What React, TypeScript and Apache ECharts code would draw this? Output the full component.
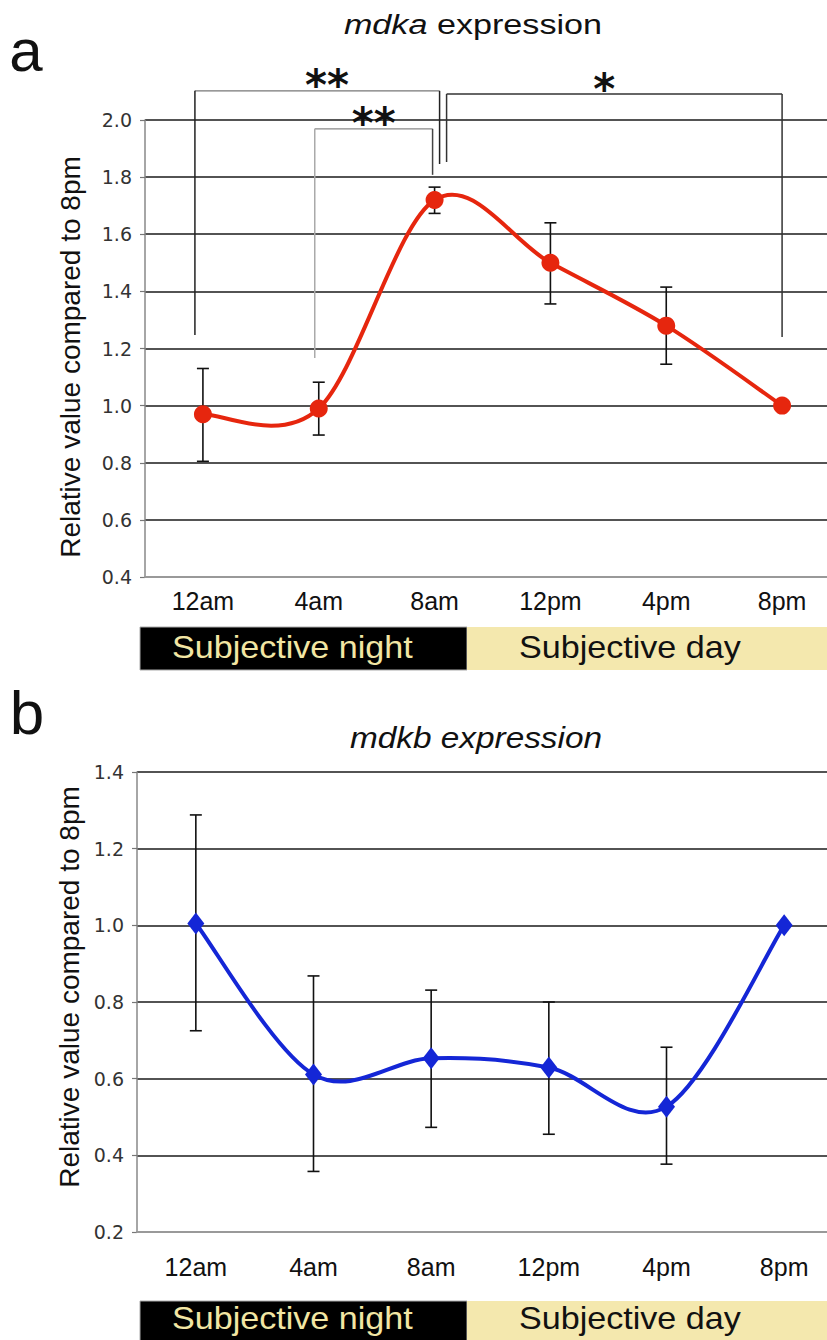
import React, { useEffect, useRef } from 'react';
import * as echarts from 'echarts';

// ---- data ----
const categories = ['12am', '4am', '8am', '12pm', '4pm', '8pm'];
const mdkaValues = [0.97, 0.99, 1.72, 1.5, 1.28, 1.0];
const mdkaUpper = [1.13, 1.082, 1.765, 1.64, 1.415, null];
const mdkaLower = [0.805, 0.897, 1.673, 1.356, 1.145, null];
const mdkbValues = [1.005, 0.611, 0.653, 0.629, 0.527, 1.0];
const mdkbUpper = [1.288, 0.868, 0.831, 0.8, 0.682, null];
const mdkbLower = [0.725, 0.358, 0.473, 0.455, 0.377, null];
const yRangeA = [0.4, 2.0];
const yRangeB = [0.2, 1.4];
const yStep = 0.2;
// significance brackets (category indices and values on the mdka axis)
const sigLabels = ['**', '**', '*'];
const sigFrom = [0, 1, 2];
const sigTo = [2, 2, 5];
const sigTop = [2.102, 1.969, 2.091];
const sigFromEnd = [1.247, 1.167, 1.853];
const sigToEnd = [1.846, 1.808, 1.24];

const FONT = "'Liberation Sans', Arial, Helvetica, sans-serif";
const TICKFONT = "'DejaVu Sans', Verdana, sans-serif";

function errData(lo: (number | null)[], hi: (number | null)[]) {
  const out: number[][] = [];
  lo.forEach((l, i) => {
    const h = hi[i];
    if (l != null && h != null) out.push([i, l, h]);
  });
  return out;
}

function errorRender(params: any, api: any) {
  const x = api.value(0);
  const lo = api.coord([x, api.value(1)]);
  const hi = api.coord([x, api.value(2)]);
  const w = 6;
  const st = { stroke: '#111', lineWidth: 1.6 };
  return {
    type: 'group',
    children: [
      { type: 'line', shape: { x1: lo[0], y1: lo[1], x2: hi[0], y2: hi[1] }, style: st },
      { type: 'line', shape: { x1: lo[0] - w, y1: lo[1], x2: lo[0] + w, y2: lo[1] }, style: st },
      { type: 'line', shape: { x1: hi[0] - w, y1: hi[1], x2: hi[0] + w, y2: hi[1] }, style: st },
    ],
  };
}

// Excel-like (Catmull-Rom) smoothed curve, one bezier segment per data item
function curveRender(values: number[], color: string) {
  return (params: any, api: any) => {
    const i = params.dataIndex;
    const n = values.length;
    if (i >= n - 1) return null;
    const P = (k: number) => api.coord([Math.max(0, Math.min(n - 1, k)), values[Math.max(0, Math.min(n - 1, k))]]);
    const p0 = P(i - 1), p1 = P(i), p2 = P(i + 1), p3 = P(i + 2);
    return {
      type: 'bezierCurve',
      shape: {
        x1: p1[0], y1: p1[1], x2: p2[0], y2: p2[1],
        cpx1: p1[0] + (p2[0] - p0[0]) / 6, cpy1: p1[1] + (p2[1] - p0[1]) / 6,
        cpx2: p2[0] - (p3[0] - p1[0]) / 6, cpy2: p2[1] - (p3[1] - p1[1]) / 6,
      },
      style: { stroke: color, lineWidth: 4, fill: 'none', lineCap: 'round' },
    };
  };
}

function xAxisCfg(gridIndex: number, margin: number) {
  return {
    type: 'category',
    gridIndex,
    data: categories,
    boundaryGap: true,
    axisLine: { show: true, lineStyle: { color: '#999', width: 2 } },
    axisTick: { show: false },
    axisLabel: { fontSize: 25, color: '#111', fontFamily: FONT, margin },
    splitLine: { show: false },
    z: 5,
  };
}

function yAxisCfg(gridIndex: number, range: number[]) {
  return {
    type: 'value',
    gridIndex,
    min: range[0],
    max: range[1],
    interval: yStep,
    axisLine: { show: true, lineStyle: { color: '#888', width: 1.5 } },
    axisTick: { show: true, length: 5, lineStyle: { color: '#777', width: 1.2 } },
    axisLabel: {
      formatter: (v: number) => v.toFixed(1),
      fontSize: 19,
      fontFamily: TICKFONT,
      color: '#333',
      margin: 13,
    },
    splitLine: { show: true, lineStyle: { color: '#1a1a1a', width: 1.6 } },
  };
}

export default function App() {
  const ref = useRef<HTMLDivElement>(null);
  useEffect(() => {
    if (!ref.current) return;
    const chart = echarts.init(ref.current, null, { renderer: 'svg' });
    const RED = '#e6260e';
    const BLUE = '#1426d6';
    chart.setOption({
      animation: false,
      backgroundColor: '#ffffff',
      grid: [
        { left: 145, top: 120, width: 695, height: 457, containLabel: false, outerBoundsMode: 'none' },
        { left: 137, top: 772, width: 706, height: 460, containLabel: false, outerBoundsMode: 'none' },
      ],
      xAxis: [xAxisCfg(0, 11), xAxisCfg(1, 22)],
      yAxis: [yAxisCfg(0, yRangeA), yAxisCfg(1, yRangeB)],
      series: [
        {
          type: 'custom', xAxisIndex: 0, yAxisIndex: 0,
          data: errData(mdkaLower, mdkaUpper),
          encode: { x: 0, y: [1, 2] },
          renderItem: errorRender, z: 2,
        },
        {
          type: 'custom', xAxisIndex: 0, yAxisIndex: 0,
          data: mdkaValues.map((v, i) => [i, v]),
          encode: { x: 0, y: 1 },
          renderItem: curveRender(mdkaValues, RED), z: 3,
        },
        {
          type: 'scatter', xAxisIndex: 0, yAxisIndex: 0,
          data: mdkaValues.map((v, i) => [i, v]),
          symbol: 'circle', symbolSize: 18,
          itemStyle: { color: RED, opacity: 1 }, z: 4,
        },
        {
          type: 'custom', xAxisIndex: 1, yAxisIndex: 1,
          data: errData(mdkbLower, mdkbUpper),
          encode: { x: 0, y: [1, 2] },
          renderItem: errorRender, z: 2,
        },
        {
          type: 'custom', xAxisIndex: 1, yAxisIndex: 1,
          data: mdkbValues.map((v, i) => [i, v]),
          encode: { x: 0, y: 1 },
          renderItem: curveRender(mdkbValues, BLUE), z: 3,
        },
        {
          type: 'scatter', xAxisIndex: 1, yAxisIndex: 1,
          data: mdkbValues.map((v, i) => [i, v]),
          symbol: 'diamond', symbolSize: [17, 22],
          itemStyle: { color: BLUE, opacity: 1 }, z: 4,
        },
      ],
    });

    const px = (g: number, i: number, v: number) =>
      chart.convertToPixel({ xAxisIndex: g, yAxisIndex: g } as any, [i, v]) as number[];

    const graphics: any[] = [];
    // panel letters
    graphics.push({ type: 'text', x: 26, y: 50, style: { text: 'a', fontSize: 60, fontFamily: FONT, fill: '#111', align: 'center', verticalAlign: 'middle' } });
    graphics.push({ type: 'text', x: 27, y: 712, style: { text: 'b', fontSize: 62, fontFamily: FONT, fill: '#111', align: 'center', verticalAlign: 'middle' } });
    // titles
    graphics.push({
      type: 'text', x: 473, y: 25, scaleX: 1.22,
      style: { text: '{i|mdka} expression', fontSize: 28, fontFamily: FONT, fill: '#111', align: 'center', verticalAlign: 'middle', rich: { i: { fontStyle: 'italic', fontSize: 28, fontFamily: FONT, fill: '#111' } } },
    });
    graphics.push({
      type: 'text', x: 476, y: 738, scaleX: 1.15,
      style: { text: 'mdkb expression', fontStyle: 'italic', fontSize: 29, fontFamily: FONT, fill: '#111', align: 'center', verticalAlign: 'middle' },
    });
    // y-axis names
    graphics.push({ type: 'text', x: 70, y: 357, rotation: Math.PI / 2, style: { text: 'Relative value compared to 8pm', fontSize: 28, fontFamily: FONT, fill: '#111', align: 'center', verticalAlign: 'middle' } });
    graphics.push({ type: 'text', x: 69, y: 987, rotation: Math.PI / 2, style: { text: 'Relative value compared to 8pm', fontSize: 28, fontFamily: FONT, fill: '#111', align: 'center', verticalAlign: 'middle' } });
    // subjective night / day bars
    const bars = [
      { y: 627, h: 43, ty: 648 },
      { y: 1301, h: 45, ty: 1319 },
    ];
    bars.forEach((b) => {
      graphics.push({ type: 'rect', shape: { x: 140, y: b.y, width: 327, height: b.h }, style: { fill: '#000', stroke: '#aaa', lineWidth: 1 } });
      graphics.push({ type: 'rect', shape: { x: 467, y: b.y, width: 362, height: b.h }, style: { fill: '#f4e8ae' } });
      graphics.push({ type: 'text', x: 172, y: b.ty, scaleX: 1.1, style: { text: 'Subjective night', fontSize: 31, fontFamily: FONT, fill: '#f2e6a4', align: 'left', verticalAlign: 'middle' } });
      graphics.push({ type: 'text', x: 519, y: b.ty, scaleX: 1.1, style: { text: 'Subjective day', fontSize: 31, fontFamily: FONT, fill: '#111', align: 'left', verticalAlign: 'middle' } });
    });
    // significance brackets on panel a
    const legDx = [[-8, 5], [-4, -2], [12, 0]];
    const hColor = ['#777', '#888', '#333'];
    const hWidth = [1.2, 1.2, 1.5];
    const lColor = [['#222', '#222'], ['#aaa', '#444'], ['#333', '#333']];
    const labelT = [0.54, 0.5, 0.47];
    sigLabels.forEach((lab, k) => {
      const a = px(0, sigFrom[k], sigTop[k]);
      const b = px(0, sigTo[k], sigTop[k]);
      const xa = a[0] + legDx[k][0];
      const xb = b[0] + legDx[k][1];
      const yt = a[1];
      const ya = px(0, sigFrom[k], sigFromEnd[k])[1];
      const yb = px(0, sigTo[k], sigToEnd[k])[1];
      graphics.push({ type: 'line', z: 10, shape: { x1: xa, y1: yt, x2: xb, y2: yt }, style: { stroke: hColor[k], lineWidth: hWidth[k] } });
      graphics.push({ type: 'line', z: 10, shape: { x1: xa, y1: yt, x2: xa, y2: ya }, style: { stroke: lColor[k][0], lineWidth: 1.5 } });
      graphics.push({ type: 'line', z: 10, shape: { x1: xb, y1: yt, x2: xb, y2: yb }, style: { stroke: lColor[k][1], lineWidth: 1.5 } });
      graphics.push({
        type: 'text', z: 10, x: xa + labelT[k] * (xb - xa), y: yt - 5,
        style: { text: lab, fontSize: 42, fontWeight: 'bold', fontFamily: "'DejaVu Sans', sans-serif", fill: '#111', align: 'center', verticalAlign: 'middle' },
      });
    });
    chart.setOption({ graphic: graphics });
    return () => chart.dispose();
  }, []);
  return (
    <div
      ref={ref}
      style={{ position: 'absolute', left: 0, top: 0, width: 827, height: 1340, background: '#fff' }}
    />
  );
}
